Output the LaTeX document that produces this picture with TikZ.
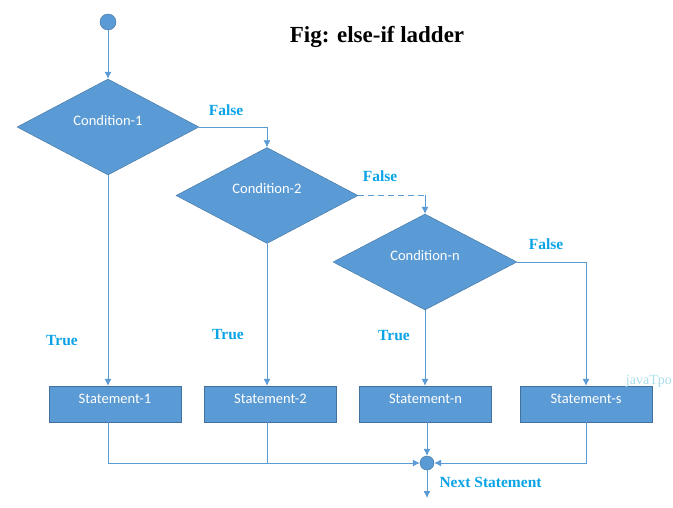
\documentclass[tikz,border=0pt]{standalone}
\usepackage{fontspec}
\setmainfont{Liberation Serif}
\newfontfamily\boxfont{Carlito}
\usepackage{xcolor}
\usepackage{tikz}
\usetikzlibrary{arrows.meta,shapes.geometric,positioning}
\definecolor{shapeblue}{HTML}{5B9BD5}
\definecolor{edgeblue}{HTML}{41719C}
\definecolor{labelblue}{HTML}{0AA3E6}
\definecolor{markcyan}{HTML}{A8DDEB}

\begin{document}
\begin{tikzpicture}[
        x=1pt, y=-1pt,
        cond/.style={draw=edgeblue, fill=shapeblue, diamond, minimum width=182pt, minimum height=96pt, inner sep=0pt, text depth=14pt, text=white, font=\boxfont\fontsize{14.5}{16}\selectfont},
        stmt/.style={draw=edgeblue, fill=shapeblue, rectangle, minimum width=132pt, minimum height=36pt, inner sep=0pt, text depth=11pt, text=white, font=\boxfont\fontsize{14.5}{16}\selectfont},
        dot/.style={draw=edgeblue, fill=shapeblue, circle, minimum size=16pt, inner sep=0pt},
        flow/.style={shapeblue, line width=0.8pt, -{Latex[length=7pt,width=7pt]}},
        line/.style={shapeblue, line width=0.8pt},
        lbl/.style={text=labelblue, font=\bfseries\fontsize{15.5}{18}\selectfont}
      ]
        \useasboundingbox (0,0) rectangle (673,508);
        \node[dot] (start) at (108,22) {};
        \node[cond] (c1) at (108,127) {Condition-1};
        \node[cond] (c2) at (267,195.5) {Condition-2};
        \node[cond, minimum width=184pt] (cn) at (425,262) {Condition-n};
        \node[stmt] (s1) at (115,404) {Statement-1};
        \node[stmt] (s2) at (270.5,404) {Statement-2};
        \node[stmt] (sn) at (425.5,404) {Statement-n};
        \node[stmt] (ss) at (586,404) {Statement-s};
        \node[dot, minimum size=14pt] (merge) at (427,463) {};
        \coordinate (bend2) at (c2.east -| cn.north);
        \coordinate (next) at (427,498);

        \node[font=\bfseries\fontsize{23}{26}\selectfont] (title) at (377,37) {Fig: else-if ladder};
        \node[lbl] (f1) at (226,110) {False};
        \node[lbl] (f2) at (380,176) {False};
        \node[lbl] (f3) at (546,244) {False};
        \node[lbl] (t1) at (62,341) {True};
        \node[lbl] (t2) at (228,335) {True};
        \node[lbl] (tn) at (394,336) {True};
        \node[lbl, anchor=west] (nextlbl) at (436,482) {Next Statement};
        \node[text=markcyan, anchor=east, inner sep=1pt, font=\fontsize{14}{16}\selectfont] (mark) at (673,381) {javaTpo};

        \draw[flow] (start) -- (c1);
        \draw[flow] (c1.east) -| (c2.north);
        \draw[line, dashed, dash pattern=on 6pt off 4pt] (c2.east) -- (bend2);
        \draw[flow] (bend2) -- (cn.north);
        \draw[flow] (cn.east) -| (ss.north);
        \draw[flow] (c1.south) -- (c1.south |- s1.north);
        \draw[flow] (c2.south) -- (c2.south |- s2.north);
        \draw[flow] (cn.south) -- (cn.south |- sn.north);
        \draw[flow] (s1.south -| c1.south) |- (merge.west);
        \draw[line] (s2.south -| c2.south) -- (c2.south |- merge.west);
        \draw[flow] (merge |- sn.south) -- (merge.north);
        \draw[flow] (ss.south) |- (merge.east);
        \draw[flow] (merge) -- (next);
      \end{tikzpicture}
\end{document}
